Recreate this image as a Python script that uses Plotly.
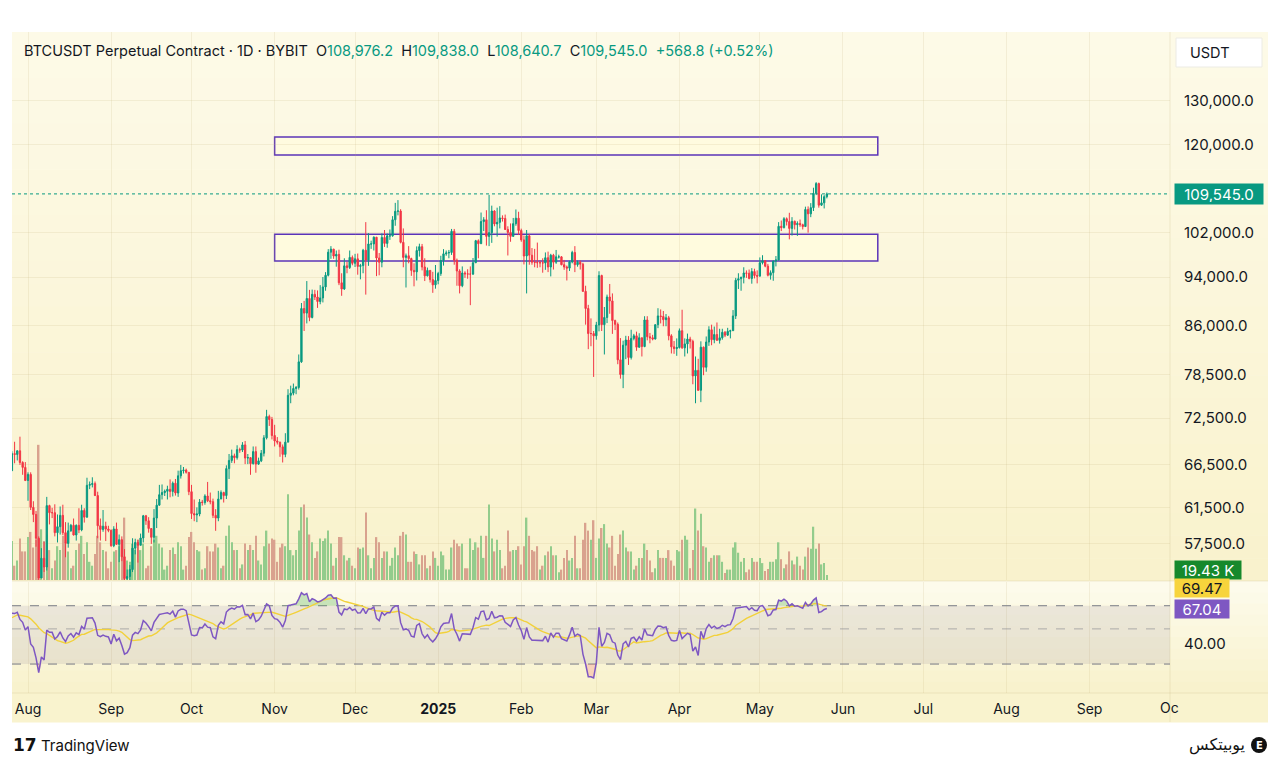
import math
import numpy as np
import pandas as pd
import plotly.graph_objects as go

# page is 1280x765; the browser adds an 8px body margin, so the figure is drawn 8px smaller
OX, OY = 8, 8
FW, FH = 1272, 757

# ---------------- DATA (BTCUSDT perpetual, daily) ----------------
start_date = "2024-07-26"
first_open = 65800.0

# closes before the visible window, only used to warm up the RSI (Jun 15 - Jul 25 2024)
warmup_closes = [66200, 66650, 66500, 65150, 64950, 64850, 64100, 64250, 63200, 60300, 61800, 60850, 61600, 60300, 60950, 62700,
                 62850, 62050, 60200, 57050, 56650, 58250, 55850, 56700, 58050, 57700, 57350, 57900, 59200, 60800,
                 64750, 65050, 64100, 63950, 66700, 67150, 68150, 67550, 65950, 65400, 65800]

closes = [
    67900, 67800, 68250, 66800, 66200, 64620,  # Jul 26-31
    65350, 61500, 60700, 58100, 54000, 56000, 55100, 61700, 60900, 60900, 58700, 59350, 60600, 58700, 57550, 58900,
    59500, 58450, 59500, 59000, 61150, 60400, 64050, 64150, 64250, 62850, 59450, 59050, 59400, 59100, 58950,  # Aug
    57300, 59100, 57450, 57950, 56150, 53950, 54150, 54850, 57050, 57650, 57350, 58130, 60550, 60000, 59150, 58200,
    60300, 61750, 62950, 63200, 63350, 63580, 63330, 64300, 63150, 65180, 65800, 65870, 65600, 63300,  # Sep
    60800, 60650, 60750, 62100, 62050, 62800, 62250, 62150, 60600, 60300, 62450, 63200, 62850, 66050, 67050, 67620,
    67400, 68400, 68350, 69000, 67350, 67400, 66650, 68150, 66600, 67000, 67950, 69900, 72700, 72300, 70200,  # Oct
    69500, 69350, 68750, 67800, 69350, 75600, 75900, 76550, 76700, 80400, 88700, 87950, 90350, 87250, 91050, 90600,
    89850, 90450, 92300, 94300, 98400, 98950, 97700, 98000, 93000, 91950, 95950, 95650, 97450, 96400,  # Nov
    97200, 95850, 96000, 98750, 97000, 99900, 99900, 101150, 97350, 96600, 101100, 100000, 101400, 101400, 104450, 106100,
    106150, 100200, 97450, 97750, 97250, 95150, 94900, 98700, 99400, 95750, 94200, 95150, 93550, 92650, 93400,  # Dec
    94600, 96900, 98100, 98250, 98350, 102250, 96950, 95050, 92500, 94700, 94550, 94500, 94500, 96500, 100500, 99950,
    104100, 104450, 101300, 102000, 106150, 103650, 103950, 104800, 104700, 102600, 102050, 101300, 103700, 104750, 102400,  # Jan
    100650, 97700, 101400, 97850, 96600, 96550, 96500, 96500, 96450, 97400, 95750, 97850, 96600, 97550, 97550, 96150,
    95750, 95550, 96650, 98350, 96150, 96600, 96250, 91550, 88700, 84700, 84700, 84350,  # Feb
    86050, 94250, 86100, 87250, 90600, 89950, 86750, 86150, 80700, 78550, 82900, 83700, 81050, 83950, 84350, 82600,
    84050, 82700, 86850, 84200, 84050, 83850, 86100, 87500, 87400, 86900, 87200, 84350, 82650, 82400, 82550,  # Mar
    85150, 82500, 83100, 83850, 83500, 78350, 79150, 76300, 82600, 79600, 83400, 85300, 83750, 84550, 83650, 84050,
    84900, 84450, 85050, 85150, 87500, 93450, 93700, 93950, 94700, 94650, 93750, 94950, 94250, 94150,  # Apr
    96500, 96850, 95900, 94300, 94750, 96800, 97000, 103200, 102950, 104650, 104100, 102800, 104150, 103500, 103750, 103500,
    103150, 106450, 105600, 106800, 109650, 111650, 107300, 107750, 108976.2, 109545.0,  # May
]

highs = [
    68200, 69400, 68300, 70050, 66950, 66850,
    65600, 65600, 62200, 61100, 58300, 57050, 57700, 62700, 61800, 61450, 61850, 60700, 61600, 61800, 59850, 59800,
    59650, 60250, 59600, 61400, 61800, 61400, 64950, 64500, 65000, 64500, 63300, 60250, 61200, 59900, 59450,
    59050, 59400, 59800, 58500, 58300, 56950, 54850, 55300, 58100, 58050, 57950, 58600, 60650, 60650, 60400, 59200,
    61300, 62450, 64100, 64150, 63550, 64000, 64750, 64500, 64800, 65800, 66500, 66250, 66050, 65600,
    64100, 62400, 61500, 62450, 62350, 63000, 64450, 63200, 62500, 61300, 63400, 63450, 63300, 66450, 67850, 68400,
    67900, 68950, 68650, 69350, 69500, 67850, 67450, 68800, 68800, 67400, 68350, 70250, 73600, 72950, 72650,
    71600, 70000, 69400, 69050, 70500, 76450, 76950, 77250, 76900, 81500, 89600, 89950, 93300, 91800, 91850, 91800,
    91700, 92600, 94000, 94850, 98950, 99500, 99000, 98700, 98850, 94650, 97300, 96650, 98700, 97800,
    98100, 98150, 96300, 99000, 104000, 101900, 100500, 101300, 101200, 98250, 101850, 102500, 101850, 102600, 105150, 107750,
    108300, 106500, 102800, 98150, 99500, 97400, 96400, 99450, 99950, 99900, 97300, 95650, 95200, 94900, 96100,
    94900, 97750, 98950, 98700, 98800, 102700, 102700, 97250, 95350, 95850, 95000, 95350, 95850, 97350, 100650, 100750,
    105850, 104950, 106300, 109350, 107200, 106300, 106800, 107100, 105300, 105450, 103200, 103750, 104800, 106450, 106000,
    102750, 101450, 102500, 101750, 99150, 99000, 100150, 96900, 97300, 98350, 98500, 98100, 98100, 98800, 97950, 97700,
    97000, 96000, 96850, 98650, 99500, 96900, 96900, 96500, 92500, 89300, 87100, 85100,
    86550, 95000, 94400, 88950, 91000, 92800, 91200, 86900, 86450, 84000, 83600, 84350, 84300, 85300, 84650, 85000,
    84750, 84050, 87450, 87450, 84800, 84500, 86100, 88750, 88550, 88300, 87800, 87500, 84600, 83550, 83950,
    85500, 88500, 83950, 84700, 84200, 83750, 81200, 80850, 83500, 82700, 84250, 85850, 86100, 85800, 86450, 85450,
    85450, 85100, 85600, 85300, 88450, 93850, 94650, 94050, 95700, 95150, 95300, 95550, 95450, 95150,
    97450, 97850, 96950, 96300, 95150, 96850, 97700, 104000, 104300, 104950, 104900, 105800, 104950, 104300, 104150, 104500,
    103700, 107000, 107050, 107700, 110800, 111950, 111850, 109450, 109300, 109838.0,
]

lows = [
    65750, 66700, 67050, 66500, 65300, 64550,
    62250, 61200, 59850, 57200, 49000, 54000, 54600, 54750, 59600, 60300, 58300, 57650, 58500, 58450, 56100, 57100,
    58800, 58400, 57850, 58650, 58850, 59800, 60350, 63600, 63800, 62800, 58100, 57850, 58800, 57800, 58750,
    57200, 57150, 57400, 55600, 55700, 52550, 53750, 53650, 54600, 56400, 55550, 57350, 57650, 59550, 58700, 57500,
    57650, 59200, 61700, 62400, 62800, 62400, 62650, 62750, 62850, 62700, 64850, 65450, 65450, 62900,
    60200, 59950, 59850, 60500, 61700, 61800, 62100, 61850, 60300, 58900, 59950, 62450, 62050, 62450, 64800, 66750,
    66700, 67150, 68000, 68100, 66600, 66600, 65300, 66550, 65550, 66500, 66850, 67550, 69700, 71450, 69700,
    68800, 69050, 67500, 66800, 67450, 69350, 74500, 75600, 75750, 76400, 80250, 85100, 86300, 86650, 87100, 90100,
    88800, 89400, 89700, 91650, 94100, 97200, 97200, 95800, 92600, 90800, 91800, 94650, 95400, 96050,
    95750, 94400, 93600, 94650, 91000, 95950, 99000, 98700, 94150, 94300, 95700, 99350, 99200, 100650, 101250, 103300,
    105300, 100000, 95700, 92200, 96400, 94200, 92400, 93400, 97600, 95150, 93300, 94100, 93050, 91300, 92000,
    92750, 94200, 96000, 97750, 97300, 97900, 96150, 92500, 91200, 92250, 93850, 93700, 89250, 94350, 96500, 97300,
    99950, 102300, 99600, 99500, 100100, 103200, 101250, 102800, 104100, 102500, 97800, 100300, 101300, 103300, 101550,
    100300, 96200, 91200, 96150, 96150, 95700, 95600, 95700, 94750, 95250, 94850, 94100, 95300, 96300, 97250, 96050,
    95250, 93400, 95050, 96400, 94850, 95800, 95300, 91450, 86100, 82300, 82750, 78200,
    83750, 85050, 85100, 81500, 86350, 87850, 84650, 85250, 80050, 77950, 76600, 80800, 79950, 80750, 83650, 82050,
    82500, 81200, 82600, 83650, 83200, 83650, 83800, 85550, 86300, 85850, 85850, 83650, 81650, 81600, 81300,
    82400, 82350, 81200, 81650, 82400, 77150, 74500, 76200, 74650, 78450, 78950, 82800, 82900, 83200, 83600, 83150,
    83750, 84150, 84350, 83950, 85150, 87000, 91950, 91650, 92900, 93850, 93600, 92850, 93750, 92900,
    94100, 96200, 95700, 94100, 93550, 93350, 95850, 96900, 102300, 102800, 103350, 100750, 101450, 102600, 101400, 103100,
    102600, 103100, 102000, 104950, 106150, 109300, 106800, 107150, 106650, 108640.7,
]

# volume, thousands of BTC
volumes_k = [
    150, 55, 75, 160, 110, 110,
    165, 185, 125, 155, 520, 195, 150, 175, 115, 45, 75, 130, 115, 170, 140, 110,
    45, 55, 115, 140, 170, 100, 145, 70, 55, 100, 170, 145, 115, 110, 45,
    70, 110, 115, 130, 125, 240, 75, 70, 140, 115, 155, 115, 140, 45, 55, 130,
    155, 170, 140, 125, 40, 55, 115, 125, 100, 145, 130, 40, 55, 165,
    185, 145, 115, 110, 40, 45, 130, 110, 110, 140, 125, 45, 55, 170, 210, 145,
    115, 115, 45, 60, 140, 115, 135, 115, 170, 75, 60, 130, 190, 140, 160,
    155, 70, 125, 140, 130, 330, 115, 95, 115, 190, 280, 290, 240, 175, 145, 85,
    110, 160, 150, 160, 190, 140, 55, 85, 165, 165, 95, 75, 85, 55,
    45, 125, 120, 125, 260, 95, 45, 85, 165, 145, 85, 110, 110, 55, 85, 125,
    95, 170, 185, 175, 70, 70, 110, 100, 60, 95, 95, 45, 55, 110, 85,
    55, 110, 95, 40, 40, 125, 155, 140, 130, 140, 45, 45, 160, 115, 145, 125,
    170, 85, 170, 290, 160, 110, 155, 115, 45, 55, 190, 110, 115, 115, 130,
    60, 130, 240, 170, 115, 110, 130, 40, 55, 95, 110, 130, 95, 95, 30, 40,
    85, 115, 75, 85, 170, 45, 45, 155, 220, 190, 155, 230,
    85, 160, 200, 215, 140, 125, 170, 55, 100, 175, 190, 125, 110, 110, 40, 55,
    85, 85, 140, 115, 75, 30, 45, 115, 85, 85, 85, 115, 75, 55, 115,
    110, 155, 170, 155, 45, 115, 275, 190, 255, 130, 125, 70, 85, 95, 95, 95,
    70, 27, 40, 40, 125, 145, 105, 70, 85, 30, 40, 85, 70, 70,
    85, 65, 35, 42, 70, 70, 80, 145, 80, 45, 60, 110, 75, 60, 90, 55,
    40, 90, 125, 120, 205, 120, 140, 60, 65, 19.43,
]

# drawn supply / resistance zones (price bands)
zone_start, zone_end = "2024-11-01", "2025-06-14"
zone_upper = (117700, 121650)
zone_lower = (96800, 101700)

price_ticks = [130000, 120000, 102000, 94000, 86000, 78500, 72500, 66500, 61500, 57500]
rsi_ticks = [40]
month_ticks = pd.date_range("2024-08-01", "2025-09-01", freq="MS")
month_labels = ["Aug", "Sep", "Oct", "Nov", "Dec", "<b>2025</b>", "Feb", "Mar", "Apr", "May", "Jun", "Jul", "Aug", "Sep"]
rsi_last_label = 67.04
rsi_ma_last_label = 69.47

# ---------------- derived ----------------
n = min(len(closes), len(highs), len(lows), len(volumes_k))
closes, highs, lows, volumes_k = closes[:n], highs[:n], lows[:n], volumes_k[:n]
dates = pd.date_range(start_date, periods=n, freq="D")
opens = [first_open] + closes[:-1]

# RSI(14) (Wilder) and its 14-period SMA
allc = np.array(warmup_closes + closes, dtype=float)
delta = np.diff(allc)
gain = np.where(delta > 0, delta, 0.0)
loss = np.where(delta < 0, -delta, 0.0)
P = 14
ag = np.full(len(delta), np.nan)
al = np.full(len(delta), np.nan)
ag[P - 1] = gain[:P].mean()
al[P - 1] = loss[:P].mean()
for i in range(P, len(delta)):
    ag[i] = (ag[i - 1] * (P - 1) + gain[i]) / P
    al[i] = (al[i - 1] * (P - 1) + loss[i]) / P
rsi_full = np.concatenate([[np.nan], 100 - 100 / (1 + ag / al)])
ma_full = pd.Series(rsi_full).rolling(P).mean().values
k = len(warmup_closes)
rsi = rsi_full[k:]
rsi_ma = ma_full[k:]

# ---------------- style ----------------
FONT = "Inter, Roboto, 'DejaVu Sans', sans-serif"
TEXT = "#131722"
UP, DOWN = "#089981", "#f23645"
VOL_UP, VOL_DOWN = "#93cc8c", "#d9a28e"
GRID = "rgba(190,175,120,0.16)"
ZONE_LINE = "#5b34b8"
RSI_C, MA_C = "#7e57c2", "#f2d13a"

x_range = ["2024-07-26 00:45", "2025-10-01 00:00"]
p_lo, p_hi = 53800, 147600
rsi_lo, rsi_hi = 19.7, 98.8
vol_axis_max = 2108


def px(v):
    return (v - OX) / FW


def py(v):
    return 1 - (v - OY) / FH


fig = go.Figure()

# volume (base axis, drawn first so candles sit above)
vcols = [VOL_UP if c >= o else VOL_DOWN for o, c in zip(opens, closes)]
fig.add_trace(go.Bar(x=dates, y=volumes_k, marker=dict(color=vcols, line_width=0),
                     width=0.55 * 86400000, xaxis="x", yaxis="y", hoverinfo="skip"))

fig.add_trace(go.Candlestick(x=dates, open=opens, high=highs, low=lows, close=closes,
                             increasing=dict(line=dict(color=UP, width=1), fillcolor=UP),
                             decreasing=dict(line=dict(color=DOWN, width=1), fillcolor=DOWN),
                             whiskerwidth=0, xaxis="x", yaxis="y2", hoverinfo="skip"))

# RSI pane
fig.add_trace(go.Scatter(x=x_range, y=[70, 70], mode="lines", line=dict(color="#787b86", width=1, dash="dash"),
                         xaxis="x", yaxis="y3", hoverinfo="skip"))
fig.add_trace(go.Scatter(x=x_range, y=[30, 30], mode="lines", line=dict(color="#787b86", width=1, dash="dash"),
                         fill="tonexty", fillcolor="rgba(120,112,150,0.13)", xaxis="x", yaxis="y3", hoverinfo="skip"))
fig.add_trace(go.Scatter(x=x_range, y=[50, 50], mode="lines", line=dict(color="rgba(120,123,134,0.55)", width=1, dash="dash"),
                         xaxis="x", yaxis="y3", hoverinfo="skip"))
fig.add_trace(go.Scatter(x=dates, y=[70] * n, mode="lines", line=dict(width=0), xaxis="x", yaxis="y3", hoverinfo="skip"))
fig.add_trace(go.Scatter(x=dates, y=np.maximum(rsi, 70), mode="lines", line=dict(width=0), fill="tonexty",
                         fillcolor="rgba(76,175,80,0.30)", xaxis="x", yaxis="y3", hoverinfo="skip"))
fig.add_trace(go.Scatter(x=dates, y=[30] * n, mode="lines", line=dict(width=0), xaxis="x", yaxis="y3", hoverinfo="skip"))
fig.add_trace(go.Scatter(x=dates, y=np.minimum(rsi, 30), mode="lines", line=dict(width=0), fill="tonexty",
                         fillcolor="rgba(242,54,69,0.18)", xaxis="x", yaxis="y3", hoverinfo="skip"))
fig.add_trace(go.Scatter(x=dates, y=rsi_ma, mode="lines", line=dict(color=MA_C, width=1.4),
                         xaxis="x", yaxis="y3", hoverinfo="skip"))
fig.add_trace(go.Scatter(x=dates, y=rsi, mode="lines", line=dict(color=RSI_C, width=1.5),
                         xaxis="x", yaxis="y3", hoverinfo="skip"))

# ---------------- backgrounds & drawn objects ----------------
shapes = []


def mix(c1, c2, t):
    return "rgb(%d,%d,%d)" % tuple(round(a + (b - a) * t) for a, b in zip(c1, c2))


def gradient(y_top, y_bot, c_top, c_bot, steps=24):
    for i in range(steps):
        a = y_top + (y_bot - y_top) * i / steps
        b = y_top + (y_bot - y_top) * (i + 1) / steps
        shapes.append(dict(type="rect", xref="paper", yref="paper", x0=px(12), x1=px(1268),
                           y0=py(b + 0.6), y1=py(a), fillcolor=mix(c_top, c_bot, (i + 0.5) / steps),
                           line=dict(width=0), layer="below"))


gradient(32, 581, (253, 250, 232), (249, 242, 204))
gradient(581, 693, (253, 251, 237), (248, 242, 203), steps=10)
gradient(693, 722, (249, 243, 207), (249, 243, 205), steps=1)

for (x0, y0, x1, y1) in [(12, 581, 1268, 581), (12, 693, 1268, 693), (1170, 32, 1170, 722)]:
    shapes.append(dict(type="line", xref="paper", yref="paper", x0=px(x0), x1=px(x1), y0=py(y0), y1=py(y1),
                       line=dict(color="rgba(200,185,130,0.25)", width=1), layer="below"))

# last price dotted line (under the candles)
shapes.append(dict(type="line", xref="paper", yref="y2", x0=px(12), x1=px(1170), y0=closes[-1], y1=closes[-1],
                   line=dict(color=UP, width=1, dash="dot"), layer="below"))

# zones (below the candles)
for lo, hi in (zone_upper, zone_lower):
    shapes.append(dict(type="rect", xref="x", yref="y2", x0=zone_start, x1=zone_end, y0=lo, y1=hi,
                       fillcolor="rgba(255,251,222,0.85)", line=dict(color=ZONE_LINE, width=1.5), layer="below"))

# USDT box
shapes.append(dict(type="rect", xref="paper", yref="paper", x0=px(1176), x1=px(1262), y0=py(67), y1=py(38),
                   fillcolor="white", line=dict(color="#ecebe4", width=1), layer="above"))
# brand icon
shapes.append(dict(type="circle", xref="paper", yref="paper", x0=px(1251), x1=px(1267), y0=py(753), y1=py(737),
                   fillcolor="#111111", line=dict(width=0), layer="above"))

# ---------------- annotations ----------------
ann = []
o, h, l, c = opens[-1], highs[-1], lows[-1], closes[-1]
chg = c - closes[-2]
pct = chg / closes[-2] * 100


def g(s):
    return f"<span style='color:{UP}'>{s}</span>"


header = (f"BTCUSDT Perpetual Contract · 1D · BYBIT&nbsp;&nbsp;O{g(f'{o:,.1f}')}&nbsp;&nbsp;H{g(f'{h:,.1f}')}"
          f"&nbsp;&nbsp;L{g(f'{l:,.1f}')}&nbsp;&nbsp;C{g(f'{c:,.1f}')}&nbsp;&nbsp;{g(f'{chg:+,.1f} ({pct:+.2f}%)')}")
ann.append(dict(text=header, xref="paper", yref="paper", x=px(22), y=py(51), xanchor="left", yanchor="middle",
                showarrow=False, font=dict(size=14.5, color=TEXT, family=FONT)))
ann.append(dict(text="USDT", xref="paper", yref="paper", x=px(1188), y=py(53), xanchor="left", yanchor="middle",
                showarrow=False, font=dict(size=14.5, color=TEXT, family=FONT)))

# last price label
ann.append(dict(text=f"{c:,.1f}", xref="paper", yref="y2", x=px(1174), y=math.log10(c), xanchor="left",
                yanchor="middle", showarrow=False, bgcolor=UP, borderpad=2, width=84, height=16, align="center",
                font=dict(size=15, color="white", family=FONT)))
# volume label
ann.append(dict(text=f"{volumes_k[-1]:.2f} K", xref="paper", yref="y", x=px(1174), y=volumes_k[-1], xanchor="left",
                yanchor="middle", yshift=5, showarrow=False, bgcolor="#16892c", borderpad=1, width=64, height=16,
                align="center", font=dict(size=15, color="white", family=FONT)))
# RSI labels
ann.append(dict(text=f"{rsi_ma_last_label:.2f}", xref="paper", yref="y3", x=px(1174), y=math.log10(rsi_ma_last_label),
                xanchor="left", yanchor="middle", yshift=18, showarrow=False, bgcolor="#f7d43c", borderpad=1,
                width=52, height=16, align="center", font=dict(size=15, color=TEXT, family=FONT)))
ann.append(dict(text=f"{rsi_last_label:.2f}", xref="paper", yref="y3", x=px(1174), y=math.log10(rsi_last_label),
                xanchor="left", yanchor="middle", showarrow=False, bgcolor="#7e57c2", borderpad=1,
                width=52, height=16, align="center", font=dict(size=15, color="white", family=FONT)))

ann.append(dict(text="Oc", xref="paper", yref="paper", x=px(1158), y=py(707), xanchor="left", yanchor="middle",
                showarrow=False, font=dict(size=14, color=TEXT, family=FONT)))
ann.append(dict(text="<b>17</b>", xref="paper", yref="paper", x=px(11), y=py(745), xanchor="left", yanchor="middle",
                showarrow=False, font=dict(size=17, color="#111111", family="'DejaVu Sans', sans-serif")))
ann.append(dict(text="TradingView", xref="paper", yref="paper", x=px(39), y=py(745), xanchor="left", yanchor="middle",
                showarrow=False, font=dict(size=15, color="#111111", family=FONT)))
ann.append(dict(text="یوبیتکس", xref="paper", yref="paper", x=px(1247), y=py(745), xanchor="right", yanchor="middle",
                showarrow=False, font=dict(size=16, color="#111111", family="'DejaVu Sans', sans-serif")))
ann.append(dict(text="<b>E</b>", xref="paper", yref="paper", x=px(1259), y=py(745), xanchor="center", yanchor="middle",
                showarrow=False, font=dict(size=10, color="white", family="'DejaVu Sans', sans-serif")))

fig.update_layout(
    width=FW, height=FH, margin=dict(l=0, r=0, t=0, b=0),
    paper_bgcolor="white", plot_bgcolor="rgba(0,0,0,0)",
    showlegend=False, font=dict(family=FONT, size=14, color=TEXT),
    shapes=shapes, annotations=ann,
    xaxis=dict(domain=[px(12), px(1170)], anchor="y3", type="date", range=x_range,
               tickvals=list(month_ticks), ticktext=month_labels, showgrid=True, gridcolor=GRID, gridwidth=1,
               ticks="", showline=False, zeroline=False, rangeslider=dict(visible=False),
               tickfont=dict(size=14, color=TEXT), ticklabelstandoff=6),
    yaxis=dict(domain=[py(580), py(32)], range=[0, vol_axis_max], visible=False, fixedrange=True),
    yaxis2=dict(overlaying="y", anchor="x", side="right", type="log",
                range=[math.log10(p_lo), math.log10(p_hi)], tickvals=price_ticks,
                ticktext=[f"{v:,.1f}" for v in price_ticks], showgrid=True, gridcolor=GRID, gridwidth=1,
                ticks="", zeroline=False, showline=False, tickfont=dict(size=15, color=TEXT), ticklabelstandoff=13),
    yaxis3=dict(domain=[py(693), py(582)], anchor="x", side="right", type="log",
                range=[math.log10(rsi_lo), math.log10(rsi_hi)], tickvals=rsi_ticks,
                ticktext=[f"{v:.2f}" for v in rsi_ticks], showgrid=False, ticks="", zeroline=False,
                showline=False, tickfont=dict(size=15, color=TEXT), ticklabelstandoff=13),
)

fig.write_html("out.html")
